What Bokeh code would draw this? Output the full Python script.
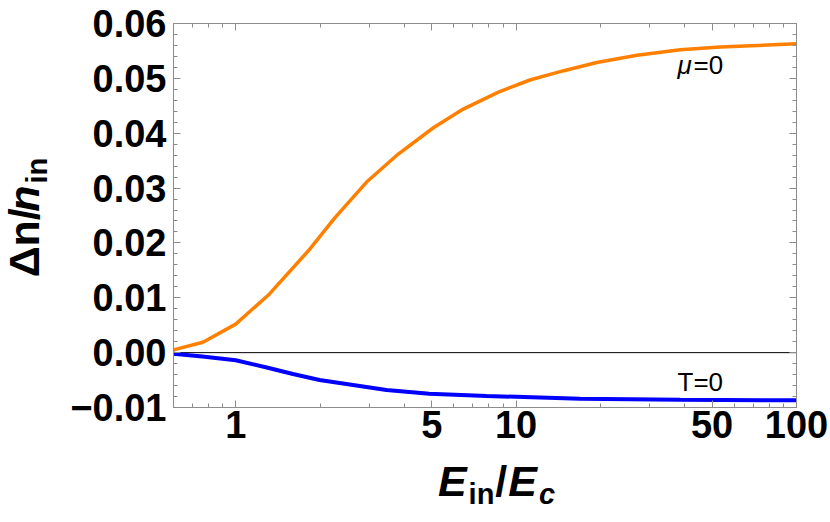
import math
from bokeh.plotting import figure
from bokeh.layouts import row, column
from bokeh.models import (FixedTicker, LogAxis, LinearAxis, CustomJSTickFormatter,
                          Span, Range1d)
from bokeh.core.properties import value
from bokeh.embed import file_html
from bokeh.resources import INLINE

# ---------------- data ----------------
mu0_x = [0.6, 0.764, 1.0, 1.32, 1.84, 2.26, 2.93, 3.8, 5.07, 6.48, 8.65, 11.2,
         14.8, 19.4, 27.0, 38.5, 53.5, 100.0]
mu0_y = [0.0005, 0.0019, 0.0052, 0.0107, 0.0189, 0.0246, 0.0311, 0.0362, 0.0410,
         0.0444, 0.0475, 0.0497, 0.0514, 0.0529, 0.0542, 0.0552, 0.0557, 0.0563]

t0_x = [0.6, 0.76, 1.0, 1.29, 1.6, 1.99, 2.62, 3.45, 4.9, 7.85, 16.9, 38.5, 100.0]
t0_y = [-0.0002, -0.0007, -0.0014, -0.0027, -0.0039, -0.0050, -0.0059, -0.0068,
        -0.0075, -0.0079, -0.0084, -0.0086, -0.0087]

x_major = [1, 5, 10, 50, 100]
x_minor = [0.6, 0.7, 0.8, 0.9, 2, 3, 4, 6, 7, 8, 9, 20, 30, 40, 60, 70, 80, 90]
y_major = [-0.01, 0.0, 0.01, 0.02, 0.03, 0.04, 0.05, 0.06]
y_minor = [round(-0.01 + 0.002 * i, 3) for i in range(36)]

X_MIN, X_MAX = 0.6, 100
Y_MIN, Y_MAX = -0.01, 0.06

ORANGE = "#FF8000"
BLUE = "#0000FF"
GRAY = "#8c8c8c"
FONT = "Liberation Sans"
MID = 0.3465   # distance (in em) from the text's vertical middle to its baseline
ASC = 0.905    # font ascent (em)

# ---------------- layout sizes (page pixels) ----------------
TOTAL_W, TOTAL_H = 830, 522
LEFT_W = 62            # strip holding the y-axis title
MAIN_H = 455           # main plot height; strip below holds the x-axis title
FL, FR, FT, FB = 173, 796, 23, 407   # plot frame edges

# ---------------- main figure ----------------
p = figure(width=TOTAL_W - LEFT_W, height=MAIN_H, x_axis_type="log",
           x_range=Range1d(X_MIN, X_MAX), y_range=Range1d(Y_MIN, Y_MAX),
           output_backend="svg", toolbar_location=None, title_location=None,
           min_border_left=FL - LEFT_W, min_border_right=TOTAL_W - FR,
           min_border_top=FT, min_border_bottom=MAIN_H - FB)
p.grid.visible = False
p.outline_line_color = GRAY
p.background_fill_color = "white"
p.border_fill_color = "white"

xfmt = CustomJSTickFormatter(code="return String(tick);")
yfmt = CustomJSTickFormatter(code="return (tick < -1e-9 ? '\u2212' : '') + Math.abs(tick).toFixed(2);")
blank = CustomJSTickFormatter(code="return '';")


def style_axis(ax, labels=True, standoff=7):
    ax.axis_line_color = GRAY
    ax.major_tick_line_color = GRAY
    ax.minor_tick_line_color = GRAY
    ax.major_tick_in = 7
    ax.major_tick_out = 0
    ax.minor_tick_in = 4
    ax.minor_tick_out = 0
    ax.axis_label = None
    if labels:
        ax.major_label_text_font = FONT
        ax.major_label_text_font_style = "bold"
        ax.major_label_text_font_size = "38px"
        ax.major_label_text_color = "black"
        ax.major_label_standoff = standoff
    else:
        ax.major_label_standoff = 0
        ax.major_label_text_font_size = "1px"


xb = p.xaxis[0]
xb.ticker = FixedTicker(ticks=x_major, minor_ticks=x_minor)
xb.formatter = xfmt
style_axis(xb, standoff=3)

yl = p.yaxis[0]
yl.ticker = FixedTicker(ticks=y_major, minor_ticks=y_minor)
yl.formatter = yfmt
style_axis(yl)

xt = LogAxis(ticker=FixedTicker(ticks=x_major, minor_ticks=x_minor), formatter=blank)
style_axis(xt, labels=False)
p.add_layout(xt, "above")

yr = LinearAxis(ticker=FixedTicker(ticks=y_major, minor_ticks=y_minor), formatter=blank)
style_axis(yr, labels=False)
p.add_layout(yr, "right")

# zero line
p.add_layout(Span(location=0, dimension="width", line_color="black", line_width=1,
                  level="underlay"))

# curves
p.line(mu0_x, mu0_y, line_color=ORANGE, line_width=3.5)
p.line(t0_x, t0_y, line_color=BLUE, line_width=4)


def px2x(px):
    lo, hi = math.log10(X_MIN), math.log10(X_MAX)
    return 10 ** (lo + (px - FL) / (FR - FL) * (hi - lo))


def px2y(py):
    return Y_MAX - (py - FT) / (FB - FT) * (Y_MAX - Y_MIN)


def put_text(fig, x, y, text, size, style, dx=0, angle=0):
    fig.text(x=[x], y=[y], text=[text], x_offset=dx, angle=angle,
             text_font=value(FONT), text_font_size=f"{size}px",
             text_font_style=style, text_color="black",
             text_align="left", text_baseline="middle")


# curve labels (anchored at the text's vertical middle)
LS = 26
lx = px2x(677)
put_text(p, lx, px2y(74 - MID * LS), "\u03bc", LS, "italic")
put_text(p, lx, px2y(74 - MID * LS), "=0", LS, "normal", dx=16)
put_text(p, lx, px2y(391 - MID * LS), "T=0", LS, "normal")


# ---------------- title strips ----------------
def strip(width, height, xr, yr, bl=0, br=0):
    f = figure(width=width, height=height, x_range=Range1d(*xr), y_range=Range1d(*yr),
               output_backend="svg", toolbar_location=None, title_location=None,
               x_axis_location=None, y_axis_location=None,
               min_border=0, min_border_left=bl, min_border_right=br,
               min_border_top=0, min_border_bottom=0)
    f.grid.visible = False
    f.outline_line_color = None
    f.background_fill_color = "white"
    f.border_fill_color = "white"
    return f


S, s, sh = 43, 29, 9

# y-axis title strip: coordinates = page pixels (y downwards), text reads upwards
ys = strip(LEFT_W, TOTAL_H, (0, LEFT_W), (TOTAL_H, 0))
pieces_y = [("\u0394n/", S, "bold", 0), ("n", S, "bold italic", 0), ("in", s, "bold", sh)]
adv_y = [(0.612 + 0.611 + 0.278) * S + 1, 0.611 * S + 2, 0.889 * s]
cy = 217 + sum(adv_y) / 2
BASE_Y = 38
for (t, sz, st, shift), a in zip(pieces_y, adv_y):
    put_text(ys, BASE_Y + shift - MID * sz, cy, t, sz, st, angle=math.pi / 2)
    cy -= a

# x-axis title strip: its frame lines up with the main frame; coordinates = page pixels
xs = strip(TOTAL_W - LEFT_W, TOTAL_H - MAIN_H, (FL, FR), (TOTAL_H, MAIN_H),
           bl=FL - LEFT_W, br=TOTAL_W - FR)
pieces_x = [("E", S, "bold italic", 0), ("in", s, "bold", sh), ("/", S, "bold", 0),
            ("E", S, "bold italic", 0), ("c", s, "bold italic", sh)]
adv_x = [0.667 * S + 2, 0.889 * s + 1, 0.278 * S + 1, 0.667 * S + 2, 0.556 * s]
cx = 496 - sum(adv_x) / 2
BASE_X = math.ceil(MAIN_H + ASC * S) + 1   # keep the whole text box inside the strip
for (t, sz, st, shift), a in zip(pieces_x, adv_x):
    put_text(xs, cx, BASE_X + shift - MID * sz, t, sz, st)
    cx += a

layout = row(ys, column(p, xs, spacing=0, sizing_mode="fixed"), spacing=0,
             sizing_mode="fixed")
open("out.html", "w").write(file_html(layout, INLINE))
